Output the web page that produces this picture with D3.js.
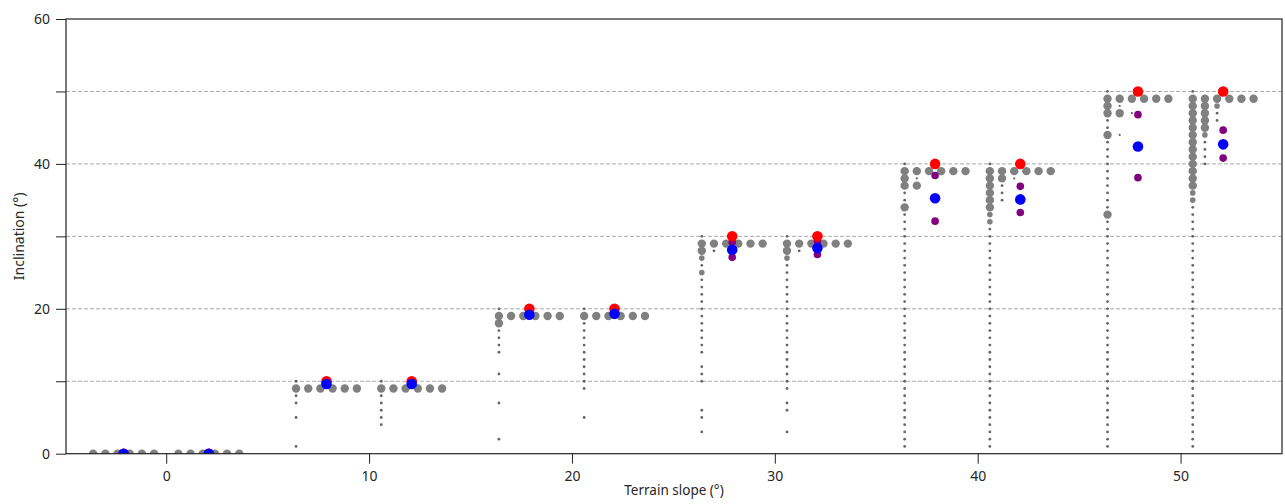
<!DOCTYPE html>
<html lang="en">
<head>
    <meta charset="UTF-8">
    <title>Inclination vs terrain slope</title>
    <script src="https://cdn.jsdelivr.net/npm/d3@7"></script>
    <style>
        body { margin: 0; background: #fff; }
        text { font-family: "Noto Sans", sans-serif; fill: #262626; }
    </style>
</head>
<body>
<script>
    const [width, height] = [1285, 504]
    const margin = {top: 19, right: 3, bottom: 50.3, left: 66}

    // terrain slope classes, two clusters each (left / right of the class value)
    const slopes = [0, 10, 20, 30, 40, 50]
    const clusterX = [-2.1, 2.1, 7.9, 12.1, 17.9, 22.1, 27.9, 32.1, 37.9, 42.1, 47.9, 52.1]
    const maxIncl = [0, 0, 10, 10, 20, 20, 30, 30, 40, 40, 50, 50]
    const meanIncl = [0, 0, 9.63, 9.63, 19.17, 19.3, 28.16, 28.4, 35.25, 35.1, 42.4, 42.7]
    const stdLow = [0, 0, 9.55, 9.55, 19.1, 19.2, 27.1, 27.5, 32.1, 33.3, 38.1, 40.8]
    const stdHigh = [0, 0, 9.7, 9.7, 19.3, 19.4, 29.2, 29.3, 38.4, 36.9, 46.8, 44.66]

    // rows of dots sharing one inclination: [inclination, size code per column]
    // L = large, M = medium, S = small, T = tiny
    const swarmRows = [
        [[0, 'LLLLLL']],
        [[0, 'LLLLLL']],
        [[9, 'LLLLLL']],
        [[9, 'LLLLLL']],
        [[19, 'LLLLLL'], [18, 'L']],
        [[19, 'LLLLLL']],
        [[29, 'LLLLLL'], [28, 'LS'], [27, 'M'], [25, 'M']],
        [[29, 'LLLLLL'], [28, 'LS'], [27, 'M']],
        [[39, 'LLLLLL'], [38, 'LT'], [37, 'LL'], [34, 'L']],
        [[39, 'LLLLLL'], [38, 'LLT'], [37, 'LS'], [36, 'LS'], [35, 'LS'], [34, 'L'], [33, 'M'], [32, 'M']],
        [[49, 'LLLLLL'], [48, 'LT'], [47, 'LLT'], [44, 'LT'], [33, 'L']],
        [[49, 'LLLLLL'], [48, 'LLM'], [47, 'LLS'], [46, 'LLS'], [45, 'LL'], [44, 'LM'], [43, 'LS'],
            [42, 'LS'], [41, 'LS'], [40, 'LS'], [39, 'L'], [38, 'L'], [37, 'L'], [36, 'M'], [35, 'M']]
    ]
    // single small dots in the first column
    const columnSmall = [
        [],
        [],
        [10, 8, 7, 5, 1],
        [10, 8, 7, 6, 5, 4],
        [20, 17, 16, 15, 14, 11, 7, 2],
        [20, 18, 17, 16, 15, 14, 13, 12, 11, 10, 9, 5],
        [30, 26, 24, 23, 22, 21, 20, 19, 18, 17, 16, 15, 14, 12, 11, 10, 6, 5, 3],
        [30, 26, 25, 24, 23, 22, 21, 20, 19, 18, 17, 16, 15, 14, 13, 12, 11, 10, 9, 7, 6, 3],
        [40, 36, 35, 33, 32, 31, 30, 29, 28, 27, 26, 25, 24, 23, 22, 21, 20, 19, 18, 17, 16, 15, 14,
            13, 12, 11, 10, 9, 8, 7, 6, 5, 4, 3, 2, 1],
        [40, 31, 30, 29, 28, 27, 26, 25, 24, 23, 22, 21, 20, 19, 18, 17, 16, 15, 14, 13, 12, 11, 10,
            9, 8, 7, 6, 5, 4, 3, 2, 1],
        [50, 46, 45, 43, 42, 41, 40, 39, 38, 37, 36, 35, 34, 32, 31, 30, 29, 28, 27, 26, 25, 24, 23,
            22, 21, 20, 19, 18, 17, 16, 15, 14, 13, 12, 11, 10, 9, 8, 7, 6, 5, 4, 3, 2, 1],
        [50, 34, 33, 32, 31, 30, 29, 28, 27, 26, 25, 24, 23, 22, 21, 20, 19, 18, 17, 16, 15, 14, 13,
            12, 11, 10, 9, 8, 7, 6, 5, 4, 3, 2, 1]
    ]
    const yTicks = [0, 10, 20, 30, 40, 50, 60]
    const gridLines = [10, 20, 30, 40, 50]

    const colStep = 0.6, colStart = -1.5
    const radius = {L: 4.2, M: 2.8, S: 1.4, T: 1.1}

    const x = d3.scaleLinear().domain([-4.94, 55]).range([margin.left, width - margin.right])
    const y = d3.scaleLinear().domain([0, 60]).range([height - margin.bottom, margin.top])

    const svg = d3.select('body').append('svg')
        .attr('width', width)
        .attr('height', height)

    // marks are clipped to the axes box, like the half dots on the zero line
    svg.append('defs').append('clipPath').attr('id', 'plot-clip')
        .append('rect')
        .attr('x', x.range()[0]).attr('y', y.range()[1])
        .attr('width', x.range()[1] - x.range()[0])
        .attr('height', y.range()[0] - y.range()[1])

    svg.append('g')
        .selectAll('line')
        .data(gridLines)
        .enter()
        .append('line')
        .attr('x1', x.range()[0]).attr('x2', x.range()[1])
        .attr('y1', d => y(d)).attr('y2', d => y(d))
        .attr('stroke', '#aaa')
        .attr('stroke-width', 1)
        .attr('stroke-dasharray', '4,2')

    // flatten the gray dots
    const gray = []
    swarmRows.forEach((rows, c) => {
        rows.forEach(([incl, codes]) => {
            codes.split('').forEach((code, k) => gray.push({x: clusterX[c] + colStart + k * colStep, y: incl, s: code}))
        })
        columnSmall[c].forEach(incl => gray.push({x: clusterX[c] + colStart, y: incl, s: 'S'}))
    })

    const plot = svg.append('g').attr('clip-path', 'url(#plot-clip)')

    plot.append('g')
        .selectAll('circle')
        .data(gray)
        .enter()
        .append('circle')
        .attr('cx', d => x(d.x))
        .attr('cy', d => y(d.y))
        .attr('r', d => radius[d.s])
        .attr('fill', d => d.s === 'L' || d.s === 'M' ? '#808080' : '#666')

    const stats = clusterX.map((cx, i) => ({
        x: cx, max: maxIncl[i], mean: meanIncl[i], lo: stdLow[i], hi: stdHigh[i]
    }))
    const marks = plot.append('g')
    marks.selectAll('circle.sd')
        .data(stats.flatMap(d => [{x: d.x, v: d.lo}, {x: d.x, v: d.hi}]))
        .enter().append('circle').attr('class', 'sd')
        .attr('cx', d => x(d.x)).attr('cy', d => y(d.v)).attr('r', 3.8).attr('fill', '#800080')
    marks.selectAll('circle.max')
        .data(stats)
        .enter().append('circle').attr('class', 'max')
        .attr('cx', d => x(d.x)).attr('cy', d => y(d.max)).attr('r', 5.3).attr('fill', '#ff0000')
    marks.selectAll('circle.mean')
        .data(stats)
        .enter().append('circle').attr('class', 'mean')
        .attr('cx', d => x(d.x)).attr('cy', d => y(d.mean)).attr('r', 5.3).attr('fill', '#0000ff')

    // axes
    const xAxis = svg.append('g')
        .attr('transform', `translate(0, ${y(0)})`)
        .call(d3.axisBottom(x).tickValues(slopes).tickSize(10).tickPadding(7))
    const yAxis = svg.append('g')
        .attr('transform', `translate(${x.range()[0]}, 0)`)
        .call(d3.axisLeft(y).tickValues(yTicks).tickSize(10).tickPadding(6)
            .tickFormat(d => d % 20 === 0 ? d : ''))
    ;[xAxis, yAxis].forEach(g => {
        g.select('.domain').remove()
        g.selectAll('line').attr('stroke', '#222')
        g.selectAll('text').attr('font-size', 14).attr('font-family', '"Noto Sans", sans-serif').attr('fill', '#262626')
    })

    svg.append('rect')
        .attr('x', x.range()[0]).attr('y', y.range()[1])
        .attr('width', x.range()[1] - x.range()[0])
        .attr('height', y.range()[0] - y.range()[1])
        .attr('fill', 'none')
        .attr('stroke', '#222')
        .attr('stroke-width', 1.2)

    svg.append('text')
        .attr('x', (x.range()[0] + x.range()[1]) / 2)
        .attr('y', 495)
        .attr('text-anchor', 'middle')
        .attr('font-size', 13.5)
        .text('Terrain slope (°)')

    svg.append('text')
        .attr('transform', `translate(24, ${(y.range()[0] + y.range()[1]) / 2}) rotate(-90)`)
        .attr('text-anchor', 'middle')
        .attr('font-size', 14)
        .text('Inclination (°)')
</script>
</body>
</html>
